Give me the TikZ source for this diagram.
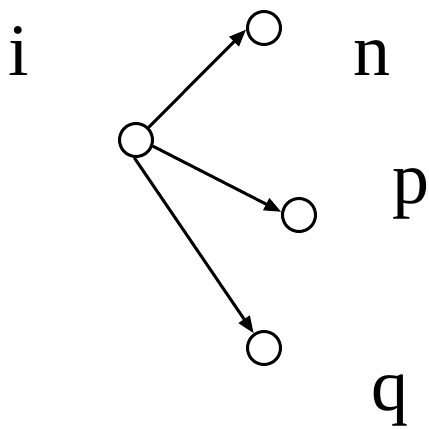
\documentclass[tikz,border=0pt]{standalone}
\usepackage{fontspec}
\setmainfont{Liberation Serif}
\usetikzlibrary{arrows.meta}

\begin{document}
\begin{tikzpicture}[
  x=1pt, y=-1pt,
  estado/.style={draw, circle, line width=3pt, minimum size=33pt, inner sep=0pt},
  rotulo/.style={anchor=base, inner sep=0pt, font=\fontsize{74}{80}\selectfont},
  seta/.style={-{Triangle[length=17pt, width=13pt]}, line width=3pt}
]
\useasboundingbox (0,0) rectangle (429,429);
\node[estado] (raiz) at (136,140) {};
\node[estado] (topo) at (264,28) {};
\node[estado] (meio) at (299,215) {};
\node[estado] (baixo) at (264,348) {};
\node[rotulo] (li) at (19,75) {i};
\node[rotulo] (ln) at (372,75) {n};
\node[rotulo] (lp) at (411,203) {p};
\node[rotulo] (lq) at (390,410) {q};
\draw[seta] (raiz.45) -- (topo.185);
\draw[seta] (raiz.-20) -- (meio.170);
\draw[seta] (raiz.-95) -- (baixo.125);
\end{tikzpicture}
\end{document}
